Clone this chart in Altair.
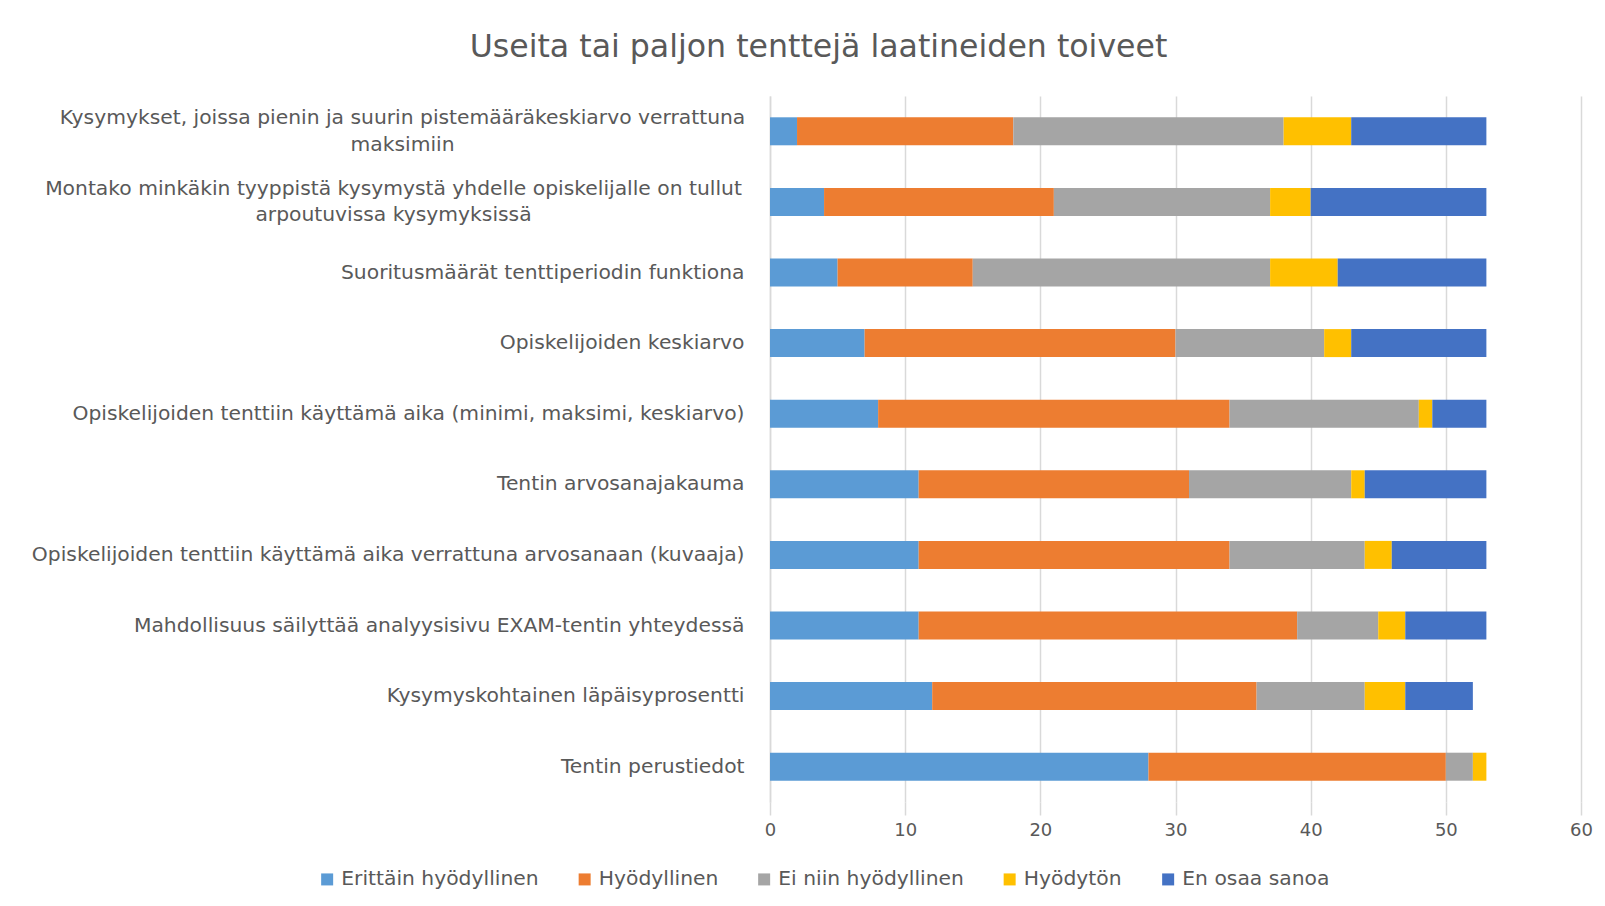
import altair as alt
import pandas as pd

categories = [
    "Kysymykset, joissa pienin ja suurin pistemääräkeskiarvo verrattuna|maksimiin",
    "Montako minkäkin tyyppistä kysymystä yhdelle opiskelijalle on tullut|arpoutuvissa kysymyksissä",
    "Suoritusmäärät tenttiperiodin funktiona",
    "Opiskelijoiden keskiarvo",
    "Opiskelijoiden tenttiin käyttämä aika (minimi, maksimi, keskiarvo)",
    "Tentin arvosanajakauma",
    "Opiskelijoiden tenttiin käyttämä aika verrattuna arvosanaan (kuvaaja)",
    "Mahdollisuus säilyttää analyysisivu EXAM-tentin yhteydessä",
    "Kysymyskohtainen läpäisyprosentti",
    "Tentin perustiedot",
]
series = ["Erittäin hyödyllinen", "Hyödyllinen", "Ei niin hyödyllinen", "Hyödytön", "En osaa sanoa"]
erittain = [2, 4, 5, 7, 8, 11, 11, 11, 12, 28]
hyodyllinen = [16, 17, 10, 23, 26, 20, 23, 28, 24, 22]
ei_niin = [20, 16, 22, 11, 14, 12, 10, 6, 8, 2]
hyodyton = [5, 3, 5, 2, 1, 1, 2, 2, 3, 1]
en_osaa = [10, 13, 11, 10, 4, 9, 7, 6, 5, 0]
colors = ["#5B9BD5", "#ED7D31", "#A5A5A5", "#FFC000", "#4472C4"]

values = [erittain, hyodyllinen, ei_niin, hyodyton, en_osaa]
rows = []
for si, s in enumerate(series):
    for ci, c in enumerate(categories):
        rows.append({"kategoria": c, "sarja": s, "arvo": values[si][ci], "jarj": si})
df = pd.DataFrame(rows)

FONT = "DejaVu Sans"
GRAY_TXT = "#595959"
GRID = "#D9D9D9"
LINE_H = 26.5
PAD = 26

chart = (
    alt.Chart(df)
    .mark_bar(size=28)
    .encode(
        y=alt.Y(
            "kategoria:N",
            sort=categories,
            title=None,
            axis=alt.Axis(
                labelExpr="split(datum.label, '|')",
                labelFont=FONT,
                labelFontSize=20.3,
                labelColor=GRAY_TXT,
                labelLineHeight=LINE_H,
                labelLimit=1000,
                # wrapped labels are centred line by line, as in the original
                labelAlign={
                    "condition": {"test": "indexof(datum.value, '|') >= 0", "value": "center"},
                    "value": "right",
                },
                labelPadding={
                    "condition": [
                        {"test": "indexof(datum.value, 'maksimiin') >= 0", "value": 368},
                        {"test": "indexof(datum.value, 'arpoutuvissa') >= 0", "value": 377},
                    ],
                    "value": PAD,
                },
                labelOffset={
                    "condition": {"test": "indexof(datum.value, '|') >= 0", "value": -LINE_H / 2},
                    "value": 0,
                },
                ticks=False,
                domain=True,
                domainColor=GRID,
                domainWidth=1.5,
                grid=False,
            ),
        ),
        x=alt.X(
            "sum(arvo):Q",
            title=None,
            scale=alt.Scale(domain=[0, 60], nice=False),
            axis=alt.Axis(
                values=[0, 10, 20, 30, 40, 50, 60],
                labelFont=FONT,
                labelFontSize=18,
                labelColor=GRAY_TXT,
                labelPadding=6,
                labelFlush=False,
                tickSize=13,
                tickColor=GRID,
                tickWidth=1.5,
                domain=False,
                grid=True,
                gridColor=GRID,
                gridWidth=1.5,
            ),
        ),
        color=alt.Color(
            "sarja:N",
            sort=series,
            scale=alt.Scale(domain=series, range=colors),
            legend=alt.Legend(
                title=None,
                orient="none",
                direction="horizontal",
                legendX=-453,
                legendY=773,
                symbolType="square",
                symbolSize=144,
                symbolStrokeWidth=0,
                labelFont=FONT,
                labelFontSize=20.3,
                labelColor=GRAY_TXT,
                labelOffset=4,
                columnPadding=35.5,
                labelLimit=400,
            ),
        ),
        order=alt.Order("jarj:Q", sort="ascending"),
    )
    .properties(
        width=811,
        height=706,
        padding={"left": 762, "top": 88, "right": 16, "bottom": 90},
        autosize=alt.AutoSizeParams(type="none"),
        title=alt.TitleParams(
            "Useita tai paljon tenttejä laatineiden toiveet",
            font=FONT,
            fontSize=31.6,
            fontWeight="normal",
            color=GRAY_TXT,
            anchor="middle",
            frame="group",
            dx=-357,
            offset=32,
        ),
    )
    .configure_view(stroke=None)
)

chart.save("out.html", embed_options={"renderer": "svg", "actions": False})
